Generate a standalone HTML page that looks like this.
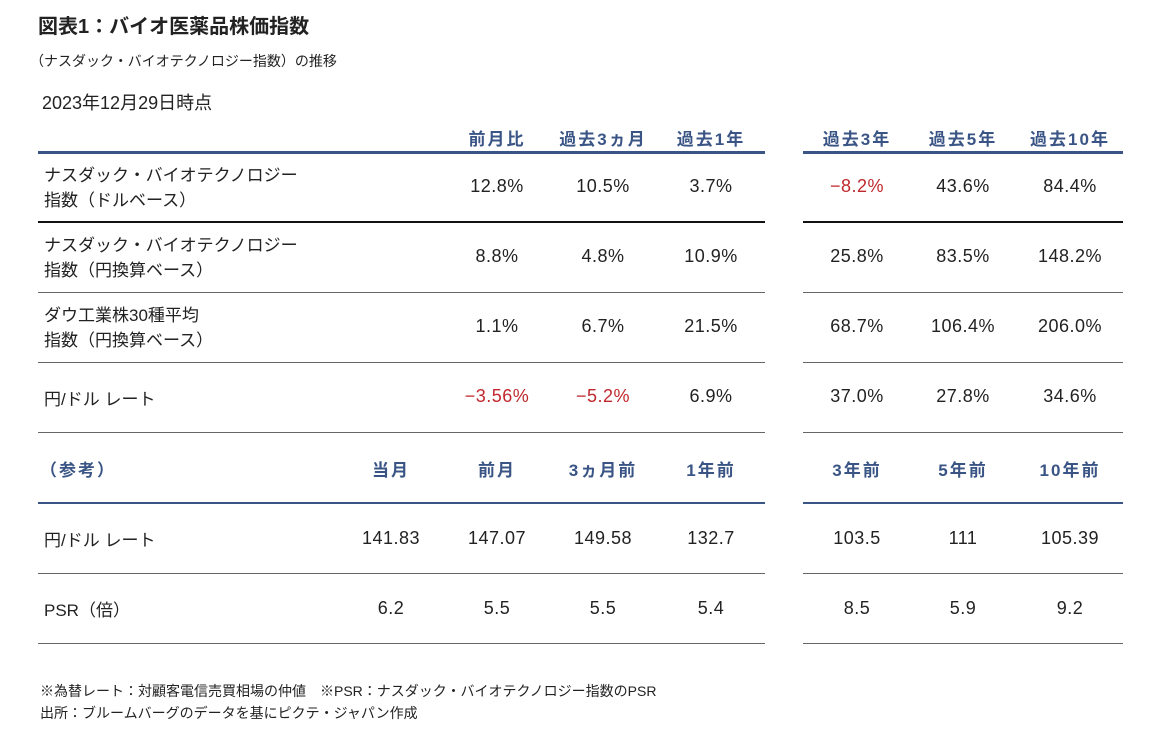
<!DOCTYPE html>
<html><head><meta charset="utf-8"><style>
body{margin:0;width:1166px;height:738px;background:#fff;position:relative;overflow:hidden;font-family:"Liberation Sans","Noto Sans CJK JP",sans-serif;color:#222}
div{position:absolute;white-space:nowrap}
.c{transform:translateX(-50%);text-align:center}
.h{font-weight:bold;color:#3a5585;font-size:17px;letter-spacing:2px}
.v{font-size:18px;letter-spacing:0.5px}
.r{color:#c0282d}
</style></head><body>
<div style="left:38px;top:10px;font-size:20px;font-weight:bold">図表1：バイオ医薬品株価指数</div>
<div style="left:30px;top:51px;font-size:14px">（ナスダック・バイオテクノロジー指数）の推移</div>
<div style="left:42px;top:89px;font-size:18px">2023年12月29日時点</div>
<div id="t" style="left:0;top:0;width:1166px;height:738px"></div>
<div style="left:40px;top:681px;font-size:14px">※為替レート：対顧客電信売買相場の仲値　※PSR：ナスダック・バイオテクノロジー指数のPSR</div>
<div style="left:40px;top:703px;font-size:14px">出所：ブルームバーグのデータを基にピクテ・ジャパン作成</div>
<script>
const cols=[497,603,711,857,963,1070];
const cols2=[391,497,603,711,857,963,1070];
const heads=["前月比","過去3ヵ月","過去1年","過去3年","過去5年","過去10年"];
const heads2=["当月","前月","3ヵ月前","1年前","3年前","5年前","10年前"];
const rows=[
 {l:["ナスダック・バイオテクノロジー","指数（ドルベース）"],v:["12.8%","10.5%","3.7%","−8.2%","43.6%","84.4%"],y:187},
 {l:["ナスダック・バイオテクノロジー","指数（円換算ベース）"],v:["8.8%","4.8%","10.9%","25.8%","83.5%","148.2%"],y:257},
 {l:["ダウ工業株30種平均","指数（円換算ベース）"],v:["1.1%","6.7%","21.5%","68.7%","106.4%","206.0%"],y:327},
 {l:["円/ドル レート"],v:["−3.56%","−5.2%","6.9%","37.0%","27.8%","34.6%"],y:397}];
const rows2=[{l:"円/ドル レート",v:["141.83","147.07","149.58","132.7","103.5","111","105.39"],y:538},
 {l:"PSR（倍）",v:["6.2","5.5","5.5","5.4","8.5","5.9","9.2"],y:608}];
const t=document.getElementById('t');let h='';
function line(y,hh,c,n){h+=`<div style="left:38px;top:${y}px;width:727px;height:${hh}px;background:${c}"></div><div style="left:803px;top:${y}px;width:320px;height:${hh}px;background:${c}"></div>`;}
heads.forEach((s,i)=>{h+=`<div class="c h" style="left:${cols[i]}px;top:125px">${s}</div>`});
line(151,3,'#3a5585','header-rule');
rows.forEach((r,k)=>{
 if(r.l.length==2){h+=`<div style="left:44px;top:${r.y-24}px;font-size:17px;line-height:25px;white-space:normal">${r.l[0]}<br>${r.l[1]}</div>`}
 else h+=`<div style="left:44px;top:${r.y-12}px;font-size:17px">${r.l[0]}</div>`;
 r.v.forEach((s,i)=>{h+=`<div class="c v${s.startsWith('−')?' r':''}" style="left:${cols[i]}px;top:${r.y-11}px">${s}</div>`});
 line(r.y+35-(k==0?1:0),k==0?2:1,k==0?'#111':'#666','row-rule-'+k);
});
h+=`<div class="h" style="left:40px;top:456px">（参考）</div>`;
heads2.forEach((s,i)=>{h+=`<div class="c h" style="left:${cols2[i]}px;top:456px">${s}</div>`});
line(502,2,'#3a5585','ref-header-rule');
rows2.forEach((r,k)=>{
 h+=`<div style="left:44px;top:${r.y-12}px;font-size:17px">${r.l}</div>`;
 r.v.forEach((s,i)=>{h+=`<div class="c v" style="left:${cols2[i]}px;top:${r.y-10}px">${s}</div>`});
 line(r.y+35,1,'#666','ref-row-rule-'+k);
});
t.innerHTML=h;
</script>
</body></html>
